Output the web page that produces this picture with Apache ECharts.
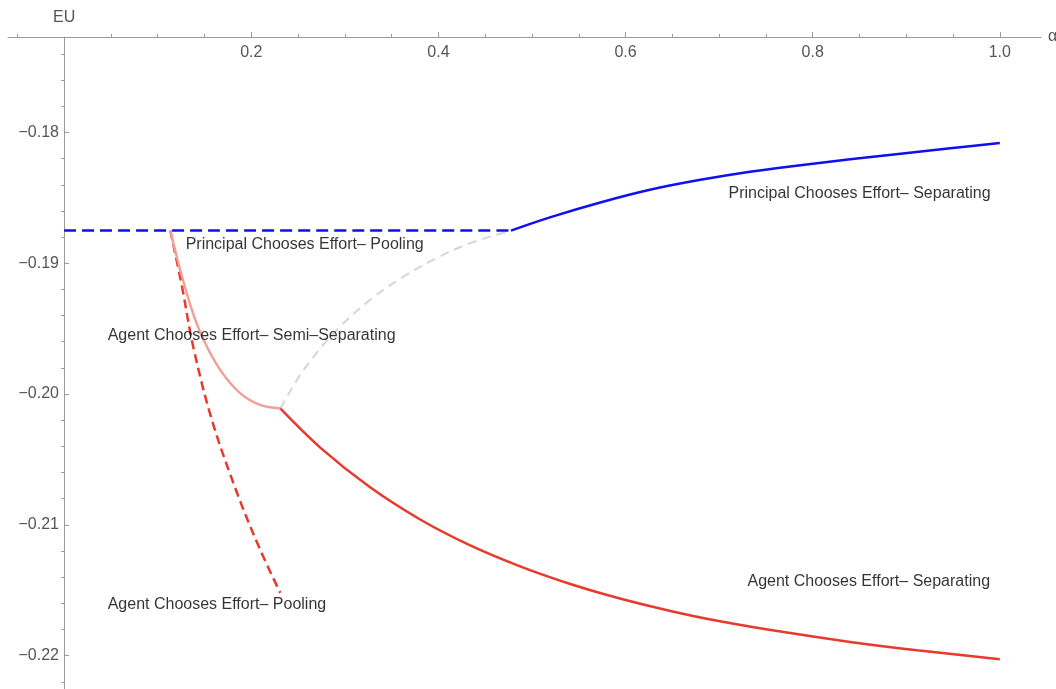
<!DOCTYPE html>
<html>
<head>
<meta charset="utf-8">
<script src="https://cdn.jsdelivr.net/npm/echarts@6/dist/echarts.min.js"></script>
<style>
html,body{margin:0;padding:0;background:#fff;}
#chart{width:1056px;height:689px;}
</style>
</head>
<body>
<div id="chart"></div>
<script>
// tick values
var xMajor = [0.2, 0.4, 0.6, 0.8, 1.0];
var xMinor = [-0.05, 0.05, 0.1, 0.15, 0.25, 0.3, 0.35, 0.45, 0.5, 0.55, 0.65, 0.7, 0.75, 0.85, 0.9, 0.95];
var yMajor = [-0.22, -0.21, -0.20, -0.19, -0.18];
var yMinor = [-0.222, -0.218, -0.216, -0.214, -0.212, -0.208, -0.206, -0.204, -0.202,
              -0.198, -0.196, -0.194, -0.192, -0.188, -0.186, -0.184, -0.182,
              -0.178, -0.176, -0.174];

// curves
var pcPoolX = [0, 0.4775];
var pcPoolY = [-0.1875, -0.1875];

var pcSepX = [0.4775, 0.52, 0.573, 0.626, 0.68, 0.733, 0.787, 0.84, 0.894, 0.947, 1.0];
var pcSepY = [-0.1875, -0.18647, -0.18535, -0.18438, -0.18362, -0.18300, -0.18250, -0.18205, -0.18162, -0.18121, -0.18081];

var grayX = [0.231, 0.256, 0.2915, 0.327, 0.3627, 0.398, 0.434, 0.4775];
var grayY = [-0.2011, -0.19815, -0.19509, -0.1928, -0.19101, -0.18961, -0.18846, -0.1875];

var semiX = [0.1135, 0.124, 0.1365, 0.149, 0.1668, 0.188, 0.2095, 0.231];
var semiY = [-0.1875, -0.1905, -0.19356, -0.19585, -0.19815, -0.19993, -0.20083, -0.2011];

var agPoolX = [0.1135, 0.126, 0.138, 0.158, 0.185, 0.2095, 0.231];
var agPoolY = [-0.1875, -0.1918, -0.1964, -0.2020, -0.2076, -0.2119, -0.2152];

var agSepX = [0.231, 0.274, 0.327, 0.3805, 0.434, 0.488, 0.541, 0.594, 0.648, 0.698, 0.769, 0.84, 0.9115, 1.0];
var agSepY = [-0.2011, -0.20411, -0.20713, -0.20959, -0.21157, -0.21319, -0.21452, -0.21563, -0.21658, -0.21733, -0.2182, -0.21895, -0.21959, -0.22027];

// annotations
var noteText = ['Principal Chooses Effort\u2013 Pooling', 'Agent Chooses Effort\u2013 Semi\u2013Separating',
                'Agent Chooses Effort\u2013 Pooling', 'Principal Chooses Effort\u2013 Separating',
                'Agent Chooses Effort\u2013 Separating'];
var noteX = [0.1293, 0.046, 0.046, 0.7095, 0.7298];
var noteY = [-0.18859, -0.19555, -0.21612, -0.18471, -0.21434];

var FONT = '"Liberation Sans", Arial, sans-serif';
var AXIS = '#9a9a9a';
var GRID_LEFT = 8;
var Y_AXIS_PX = 64; // where x = 0 falls

function pairs(xs, ys){
	var out = [];
	for(var i=0;i<xs.length;i++){
		out.push([xs[i], ys[i]]);
	}
	return out;
}

function minus(v){
	return String(v.toFixed(2)).replace('-', '\u2212');
}

function curve(xs, ys, color, type, width, z){
	return {
		type: 'line',
		xAxisIndex: 0,
		yAxisIndex: 0,
		data: pairs(xs, ys),
		showSymbol: false,
		smooth: 0.35,
		z: z,
		lineStyle: {color: color, width: width, type: type},
		emphasis: {disabled: true},
		silent: true
	};
}

var notes = [];
for(var i=0;i<noteText.length;i++){
	notes.push({name: noteText[i], value: [noteX[i], noteY[i]]});
}

var myChart = echarts.init(document.getElementById('chart'), null, {renderer: 'canvas'});
myChart.setOption({
	animation: false,
	backgroundColor: '#fff',
	grid: {left: GRID_LEFT, right: 15, top: 37, bottom: 0, containLabel: false, outerBoundsMode: 'none'},
	xAxis: [{
		type: 'value', position: 'top', min: -0.06, max: 1.044,
		name: '\u03b1', nameLocation: 'end', nameGap: 7,
		nameTextStyle: {color: '#555', fontSize: 16, fontFamily: FONT},
		axisLine: {show: true, lineStyle: {color: AXIS, width: 1}},
		axisTick: {show: true, inside: false, length: 5, customValues: xMajor, lineStyle: {color: AXIS}},
		axisLabel: {show: true, inside: true, margin: 8, customValues: xMajor, color: '#555', fontSize: 16, fontFamily: FONT,
			formatter: function(v){ return v.toFixed(1); }},
		splitLine: {show: false}
	}, {
		type: 'value', position: 'top', min: -0.06, max: 1.044,
		axisLine: {show: false},
		axisTick: {show: true, inside: false, length: 3, customValues: xMinor, lineStyle: {color: AXIS}},
		axisLabel: {show: false},
		splitLine: {show: false}
	}],
	yAxis: [{
		type: 'value', min: -0.22255, max: -0.1727,
		name: 'EU', nameLocation: 'end', nameGap: 11,
		nameTextStyle: {color: '#555', fontSize: 16, fontFamily: FONT, align: 'center'},
		axisLine: {show: true, onZero: true, onZeroAxisIndex: 0, lineStyle: {color: AXIS, width: 1}},
		axisTick: {show: true, inside: true, length: 5, customValues: yMajor, lineStyle: {color: AXIS}},
		// labels stay at the grid edge, so pull them over to the zero line
		axisLabel: {show: true, margin: 5 - (Y_AXIS_PX - GRID_LEFT), customValues: yMajor, color: '#555', fontSize: 16, fontFamily: FONT,
			formatter: minus},
		splitLine: {show: false}
	}, {
		type: 'value', min: -0.22255, max: -0.1727,
		axisLine: {show: false, onZero: true, onZeroAxisIndex: 0},
		axisTick: {show: true, inside: true, length: 3, customValues: yMinor, lineStyle: {color: AXIS}},
		axisLabel: {show: false},
		splitLine: {show: false}
	}],
	series: [
		curve(grayX, grayY, '#d6d6d6', [9, 6], 2, 2),
		curve(pcPoolX, pcPoolY, '#0f0ff2', [12, 6], 2.5, 3),
		curve(pcSepX, pcSepY, '#0f0ff2', 'solid', 2.5, 3),
		curve(agPoolX, agPoolY, '#e8392c', [9, 5], 2.5, 3),
		curve(semiX, semiY, '#f0a098', 'solid', 2.5, 4),
		curve(agSepX, agSepY, '#e8392c', 'solid', 2.5, 3),
		{
			type: 'scatter',
			xAxisIndex: 0,
			yAxisIndex: 0,
			data: notes,
			symbolSize: 1,
			itemStyle: {color: 'rgba(0,0,0,0)'},
			silent: true,
			z: 5,
			label: {show: true, position: 'right', distance: 0, formatter: '{b}',
				color: '#000', fontSize: 16, fontFamily: FONT}
		}
	]
});
</script>
</body>
</html>
